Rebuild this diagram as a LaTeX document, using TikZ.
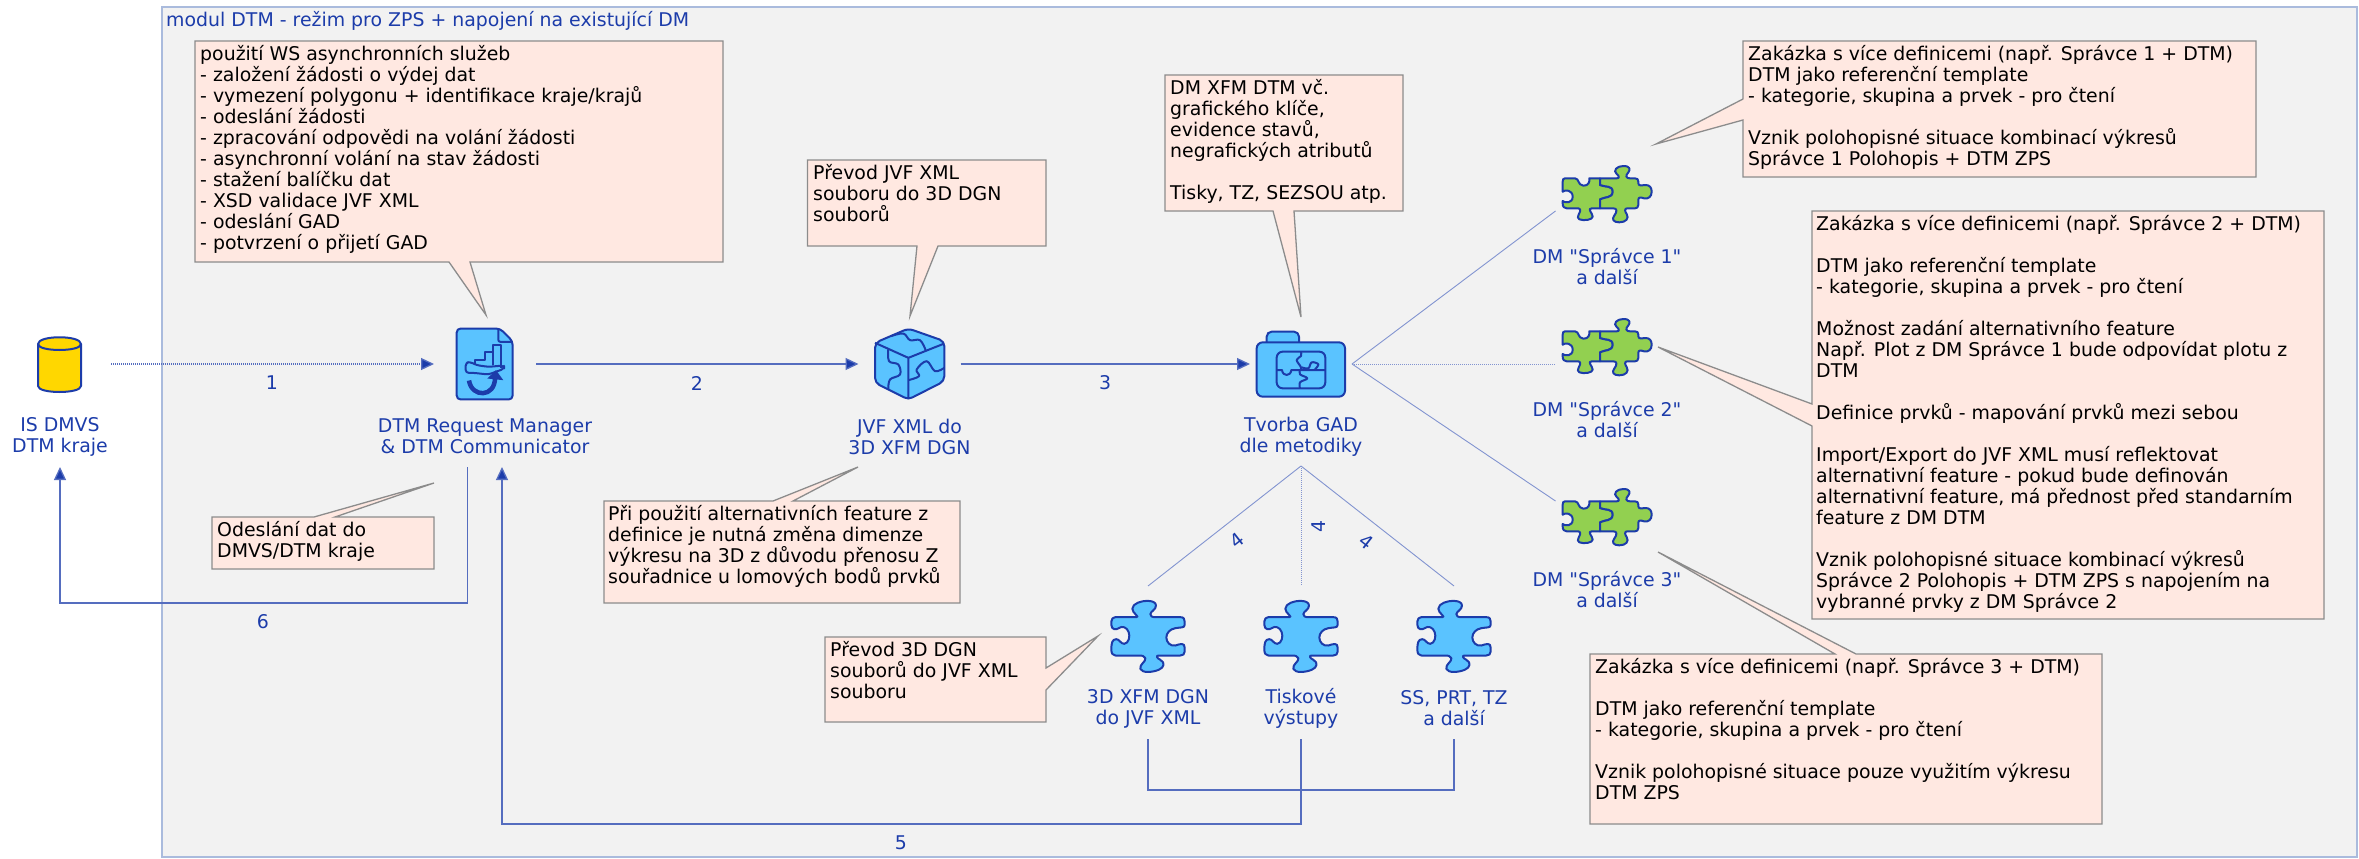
\documentclass[tikz,border=0pt]{standalone}
\usepackage{fontspec}
\newfontfamily\diagramfont{DejaVu Sans}
\usetikzlibrary{arrows.meta}
\definecolor{moduleblue}{HTML}{1C3CAA}
\definecolor{iconblue}{HTML}{5AC3FF}
\definecolor{icongreen}{HTML}{92D050}
\definecolor{notefill}{HTML}{FFE8E1}
\definecolor{sheetline}{HTML}{AABBDD}
\definecolor{dbyellow}{HTML}{FFD700}
\tikzset{
  sheet/.style={fill=black!5,draw=sheetline,line width=1.5pt},
  note/.style={fill=notefill,draw=black!45,line width=1.3pt,line join=miter},
  notetext/.style={anchor=north west,align=left,inner sep=0pt,font=\diagramfont\fontsize{18.9}{21}\selectfont},
  caption/.style={align=center,inner sep=0pt,text=moduleblue,font=\diagramfont\fontsize{18.9}{21}\selectfont},
  iconbox/.style={minimum width=102pt,minimum height=2pt,inner sep=0pt,outer sep=0pt},
  flow/.style={draw=moduleblue!75!white,line width=1.3pt},
  flowtip/.style={flow,-{Triangle[length=13pt,width=12pt,fill=moduleblue]}},
  fan/.style={draw=moduleblue!55!white,line width=0.9pt},
  icon/.style={draw=moduleblue,line width=2pt,line join=round},
  puzzleblue/.pic={
    \begin{scope}[scale=0.3333,shift={(-143,-125)}]
    \draw[icon,fill=iconblue] (45,67)--(108,67).. controls (120,67) and (96,55) .. (96,42).. controls (96,25) and (125,18) .. (140,18).. controls (155,18) and (167,22) .. (167,32).. controls (167,45) and (150,50) .. (150,58).. controls (150,64) and (155,67) .. (165,67)--(240,67).. controls (250,67) and (253,72) .. (253,80)--(253,90).. controls (253,100) and (240,97) .. (225,100).. controls (208,103) and (198,115) .. (198,128).. controls (198,142) and (210,155) .. (225,152).. controls (238,148) and (253,142) .. (253,158)--(253,170).. controls (253,178) and (248,182) .. (240,182)--(175,182).. controls (165,182) and (170,190) .. (180,195).. controls (195,203) and (192,218) .. (175,225).. controls (155,233) and (125,235) .. (120,222).. controls (117,208) and (138,200) .. (135,190).. controls (133,183) and (125,182) .. (115,182)--(45,182).. controls (37,182) and (33,175) .. (33,165).. controls (33,145) and (35,133) .. (48,133).. controls (58,133) and (60,147) .. (72,147).. controls (85,145) and (90,125) .. (85,112).. controls (80,97) and (65,92) .. (55,100).. controls (48,106) and (33,105) .. (33,90)--(33,80).. controls (33,72) and (38,67) .. (45,67)--cycle;
    \end{scope}
  },
  puzzlegreen/.pic={
    \begin{scope}[scale=0.3333,shift={(-261,-165)}]
    \draw[icon,fill=icongreen] (135,115)--(165,115).. controls (178,115) and (172,135) .. (190,137).. controls (205,138) and (210,125) .. (208,115)--(240,115)--(240,135).. controls (255,142) and (278,135) .. (278,155).. controls (278,175) and (255,170) .. (240,178)--(240,205)--(215,205).. controls (200,205) and (218,220) .. (218,230).. controls (218,240) and (190,243) .. (178,238).. controls (165,233) and (185,215) .. (180,208).. controls (178,205) and (175,205) .. (170,205)--(140,205).. controls (132,205) and (128,200) .. (128,190)--(128,183).. controls (135,190) and (158,190) .. (158,170).. controls (158,150) and (135,148) .. (128,155)--(128,125).. controls (128,118) and (130,115) .. (135,115)--cycle;
    \draw[icon,fill=icongreen] (240,115)--(290,115).. controls (300,115) and (297,107) .. (290,102).. controls (278,92) and (290,78) .. (310,78).. controls (330,78) and (332,88) .. (325,97).. controls (315,108) and (318,115) .. (330,115)--(345,115).. controls (352,115) and (355,118) .. (355,125)--(355,130).. controls (355,140) and (368,135) .. (378,135).. controls (390,135) and (395,145) .. (395,155).. controls (395,170) and (385,178) .. (372,175).. controls (362,172) and (355,170) .. (355,180)--(355,195).. controls (355,202) and (350,205) .. (345,205)--(322,205).. controls (312,205) and (315,215) .. (320,222).. controls (328,235) and (318,247) .. (298,247).. controls (280,247) and (275,238) .. (282,228).. controls (292,215) and (292,205) .. (280,205)--(240,205)--(240,178).. controls (255,170) and (278,175) .. (278,155).. controls (278,135) and (255,142) .. (240,135)--cycle;
    \end{scope}
  },
  requesticon/.pic={
    \begin{scope}[scale=0.3333,shift={(-195,-193.5)}]
    \draw[icon,fill=iconblue,rounded corners=4pt] (110,87)--(240,87)--(278,125)--(278,300)--(110,300)--cycle;
    \draw[icon,rounded corners=2pt] (235,87)--(235,127)--(278,127);
    \draw[icon] (165,192)--(165,180)--(195,180)--(195,158)--(218,158)--(218,195);
    \draw[icon] (218,195)--(218,135)--(242,135)--(242,205);
    \draw[icon,rounded corners=3pt] (137,190)--(150,187)--(170,197)--(205,202)--(252,198)--(252,208)--(205,225)--(160,220)--(137,220)--cycle;
    \draw[moduleblue,line width=4.5pt] (147,243).. controls (155,295) and (225,295) .. (225,235);
    \fill[moduleblue] (202,237)--(228,212)--(250,242)--cycle;
    \end{scope}
  },
  cubeicon/.pic={
    \begin{scope}[scale=0.3333,shift={(-133.5,-133.5)}]
    \draw[icon,fill=iconblue,rounded corners=5pt] (130,27)--(238,65)--(238,185)--(130,240)--(30,190)--(30,70)--cycle;
    \draw[icon] (30,70)--(130,115)--(238,72) (130,115)--(130,240);
    \draw[icon] plot[smooth,tension=0.6] coordinates {(78,50)(115,42)(135,62)(165,62)(182,92)};
    \draw[icon] plot[smooth,tension=0.6] coordinates {(70,88)(72,125)(100,135)(105,165)(75,180)(70,208)};
    \draw[icon] plot[smooth,tension=0.6] coordinates {(130,182)(162,170)(155,150)(185,125)(210,155)(238,145)};
    \end{scope}
  },
  foldericon/.pic={
    \begin{scope}[scale=0.3333,shift={(-153,-117)}]
    \draw[icon,fill=iconblue,rounded corners=5pt] (50,52)--(50,20)--(147,20)--(147,52);
    \draw[icon,fill=iconblue,rounded corners=6pt] (20,52) rectangle (285,215);
    \draw[icon,rounded corners=6pt] (80,80) rectangle (226,190);
    \draw[icon] (80,135)--(96,135).. controls (98,155) and (122,155) .. (124,135)--(226,135);
    \draw[icon] plot[smooth,tension=0.6] coordinates {(153,80)(153,93)(140,105)(152,125)(153,135)};
    \draw[icon] plot[smooth,tension=0.6] coordinates {(150,135)(150,148)(172,160)(150,172)(150,190)};
    \draw[icon] plot[smooth,tension=0.6] coordinates {(155,127)(175,130)(185,112)(205,118)(195,133)};
    \end{scope}
  }
}
\begin{document}
\begin{tikzpicture}[x=1pt,y=-1pt]
\useasboundingbox (0,0) rectangle (2359,859);
\draw[sheet] (162,7) rectangle (2357,857);
\node[caption,anchor=west] (title) at (166,21) {modul DTM - režim pro ZPS + napojení na existující DM};

\node[iconbox] (dmvs) at (60,364) {};
\node[iconbox] (request) at (485,364) {};
\node[iconbox] (cube) at (909.5,364) {};
\node[iconbox] (gad) at (1301,364) {};
\node[iconbox] (spravceb) at (1607,364) {};
\coordinate (spravcea) at (1555.5,211);
\coordinate (spravcec) at (1555.5,501);
\coordinate (gadout) at (gad.east);
\coordinate (gaddown) at (1301,466);
\coordinate (xfmin) at (1148,586);
\coordinate (printin) at (1301,586);
\coordinate (ssin) at (1454,586);
\coordinate (xfmout) at (1148,739);
\coordinate (printout) at (1301,739);
\coordinate (ssout) at (1454,739);
\coordinate (requestin) at (502,467);
\coordinate (requestout) at (467.5,467);
\coordinate (dmvsin) at (60,467);

% konektory
\draw[flowtip,dash pattern=on 1pt off 1pt] (dmvs.east)--(request.west);
\draw[flowtip] (request.east)--(cube.west);
\draw[flowtip] (cube.east)--(gad.west);
\draw[fan] (gadout)--(spravcea);
\draw[fan,dash pattern=on 1pt off 1pt] (gadout)--(spravceb.west);
\draw[fan] (gadout)--(spravcec);
\draw[fan] (gaddown)--(xfmin);
\draw[fan,dash pattern=on 1pt off 1pt] (gaddown)--(printin);
\draw[fan] (gaddown)--(ssin);
\draw[flow] (xfmout)--++(0,51)-|(ssout);
\draw[flowtip] (printout)--++(0,85)-|(requestin);
\draw[flowtip] (requestout)--++(0,136)-|(dmvsin);

\node[caption] (numa) at (272,383) {1};
\node[caption] (numb) at (697,383) {2};
\node[caption] (numc) at (1105,383) {3};
\node[caption,rotate=38] (numda) at (1237,540) {4};
\node[caption,rotate=90] (numdb) at (1319,526) {4};
\node[caption,rotate=-38] (numdc) at (1366,542) {4};
\node[caption] (nume) at (901,843) {5};
\node[caption] (numf) at (263,622) {6};

% ikony
\draw[icon,fill=dbyellow] (38,344)--(38,386).. controls (38,394) and (81,394) .. (81,386)--(81,344).. controls (81,335) and (38,335) .. (38,344)--cycle;
\draw[icon] (38,344).. controls (38,352) and (81,352) .. (81,344);
\pic at (request) {requesticon};
\pic at (cube) {cubeicon};
\pic at (gad) {foldericon};
\pic at (1607,195) {puzzlegreen};
\pic at (1607,348) {puzzlegreen};
\pic at (1607,518) {puzzlegreen};
\pic at (1148,636.5) {puzzleblue};
\pic at (1301,636.5) {puzzleblue};
\pic at (1454,636.5) {puzzleblue};

\node[caption] (dmvslabel) at (60,436.5) {IS DMVS\\DTM kraje};
\node[caption] (requestlabel) at (485,436.5) {DTM Request Manager\\\& DTM Communicator};
\node[caption] (cubelabel) at (909.5,436.5) {JVF XML do\\3D XFM DGN};
\node[caption] (gadlabel) at (1301,436.5) {Tvorba GAD\\dle metodiky};
\node[caption] (spravcealabel) at (1607,266.5) {DM "Správce 1"\\a další};
\node[caption] (spravceblabel) at (1607,419.5) {DM "Správce 2"\\a další};
\node[caption] (spravceclabel) at (1607,589.5) {DM "Správce 3"\\a další};
\node[caption] (xfmlabel) at (1148,708.5) {3D XFM DGN\\do JVF XML};
\node[caption] (printlabel) at (1301,708.5) {Tiskové\\výstupy};
\node[caption] (sslabel) at (1454,708.5) {SS, PRT, TZ\\a další};

% poznamky
\draw[note] (195,41)--(723,41)--(723,262)--(470,262)--(486,315)--(449,262)--(195,262)--cycle;
\node[notetext] (notews) at (200,45) {použití WS asynchronních služeb\\- založení žádosti o výdej dat\\- vymezení polygonu + identifikace kraje/krajů\\- odeslání žádosti\\- zpracování odpovědi na volání žádosti\\- asynchronní volání na stav žádosti\\- stažení balíčku dat\\- XSD validace JVF XML\\- odeslání GAD\\- potvrzení o přijetí GAD};
\draw[note] (807.5,160)--(1046,160)--(1046,246)--(938,246)--(910,316)--(917,246)--(807.5,246)--cycle;
\node[notetext] (notejvf) at (813,164) {Převod JVF XML\\souboru do 3D DGN\\souborů};
\draw[note] (1165,75)--(1403,75)--(1403,211)--(1294,211)--(1301,317)--(1273,211)--(1165,211)--cycle;
\node[notetext] (notexfm) at (1170,79) {DM XFM DTM vč.\\grafického klíče,\\evidence stavů,\\negrafických atributů\\[21pt]Tisky, TZ, SEZSOU atp.};
\draw[note] (212,517)--(314,517)--(434,483)--(335,517)--(434,517)--(434,569)--(212,569)--cycle;
\node[notetext] (notesend) at (217,521) {Odeslání dat do\\DMVS/DTM kraje};
\draw[note] (604,501)--(773,501)--(858,467)--(793,501)--(960,501)--(960,603)--(604,603)--cycle;
\node[notetext] (notealt) at (608,505) {Při použití alternativních feature z\\definice je nutná změna dimenze\\výkresu na 3D z důvodu přenosu Z\\souřadnice u lomových bodů prvků};
\draw[note] (825,637)--(1046,637)--(1046,668)--(1098,636)--(1046,690)--(1046,722)--(825,722)--cycle;
\node[notetext] (noteback) at (830,641) {Převod 3D DGN\\souborů do JVF XML\\souboru};
\draw[note] (1743,41)--(2256,41)--(2256,177)--(1743,177)--(1743,120)--(1656,144)--(1743,99)--cycle;
\node[notetext] (notespravcea) at (1748,45) {Zakázka s více definicemi (např. Správce 1 + DTM)\\DTM jako referenční template\\- kategorie, skupina a prvek - pro čtení\\[21pt]Vznik polohopisné situace kombinací výkresů\\Správce 1 Polohopis + DTM ZPS};
\draw[note] (1812,211)--(2324,211)--(2324,619)--(1812,619)--(1812,426)--(1658,347)--(1812,404)--cycle;
\node[notetext] (notespravceb) at (1816,215) {Zakázka s více definicemi (např. Správce 2 + DTM)\\[21pt]DTM jako referenční template\\- kategorie, skupina a prvek - pro čtení\\[21pt]Možnost zadání alternativního feature\\Např. Plot z DM Správce 1 bude odpovídat plotu z\\DTM\\[21pt]Definice prvků - mapování prvků mezi sebou\\[21pt]Import/Export do JVF XML musí reflektovat\\alternativní feature - pokud bude definován\\alternativní feature, má přednost před standarním\\feature z DM DTM\\[21pt]Vznik polohopisné situace kombinací výkresů\\Správce 2 Polohopis + DTM ZPS s napojením na\\vybranné prvky z DM Správce 2};
\draw[note] (1590,654)--(1835,654)--(1658,552)--(1856,654)--(2102,654)--(2102,824)--(1590,824)--cycle;
\node[notetext] (notespravcec) at (1595,658) {Zakázka s více definicemi (např. Správce 3 + DTM)\\[21pt]DTM jako referenční template\\- kategorie, skupina a prvek - pro čtení\\[21pt]Vznik polohopisné situace pouze využitím výkresu\\DTM ZPS};
\end{tikzpicture}
\end{document}
